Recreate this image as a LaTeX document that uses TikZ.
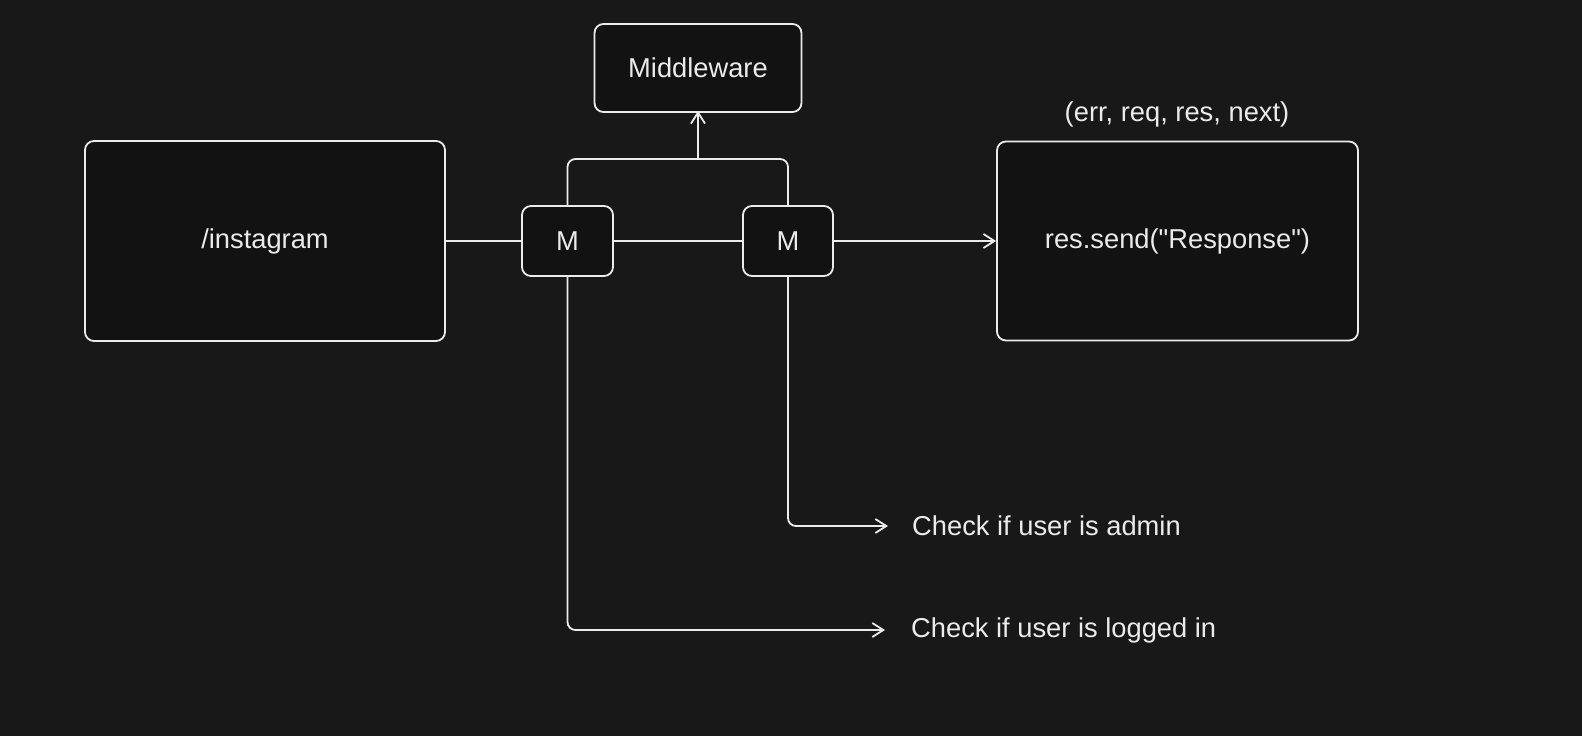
\documentclass[tikz,border=0pt]{standalone}
\usepackage{fontspec}
\setmainfont{Liberation Sans}[Ligatures=TeXOff]
\usetikzlibrary{arrows.meta}
\definecolor{bgc}{HTML}{181818}
\definecolor{boxfill}{HTML}{121212}
\definecolor{ink}{HTML}{EBEBEB}
\begin{document}
\begin{tikzpicture}[x=1pt,y=-1pt,
  box/.style={draw=ink, fill=boxfill, line width=1.8pt, rounded corners=9pt, inner sep=0pt, text=ink, font=\fontsize{27.3}{32}\selectfont},
  lbl/.style={text=ink, inner sep=0pt, font=\fontsize{27.3}{32}\selectfont},
  conn/.style={draw=ink, line width=1.8pt, line cap=round, rounded corners=8pt},
  arr/.style={conn, -{Straight Barb[length=11pt,width=14pt,line width=1.8pt]}}
]
\fill[bgc] (0,0) rectangle (1582,736);
\useasboundingbox (0,0) rectangle (1582,736);

\node[box, minimum width=360pt, minimum height=200pt] (insta) at (265,241) {\raisebox{-2pt}{/instagram}};
\node[box, minimum width=91pt, minimum height=70pt] (m1) at (567.5,241) {M};
\node[box, minimum width=90pt, minimum height=70pt] (m2) at (788,241) {M};
\node[box, minimum width=207pt, minimum height=88pt] (mid) at (698,68) {Middleware};
\node[box, minimum width=361pt, minimum height=199pt] (res) at (1177.5,241) {\raisebox{-2pt}{res.send("Response")}};
\node[lbl] (args) at (1177,114) {(err, req, res, next)};
\node[lbl, anchor=west] (admin) at (912,526) {Check if user is admin};
\node[lbl, anchor=west] (logged) at (911,630) {Check if user is logged in};

\coordinate (junc) at (698,159);

\draw[conn] (insta.east) -- (m1.west);
\draw[conn] (m1.east) -- (m2.west);
\draw[arr] (m2.east) -- (res.west);
\draw[conn] (m1.north) |- (junc);
\draw[conn] (m2.north) |- (junc);
\draw[arr, rounded corners=0pt] (junc) -- ([yshift=2pt]mid.south);
\draw[arr, shorten >=24pt] (m2.south) |- (admin.west);
\draw[arr, shorten >=26pt] (m1.south) |- (logged.west);
\end{tikzpicture}
\end{document}
